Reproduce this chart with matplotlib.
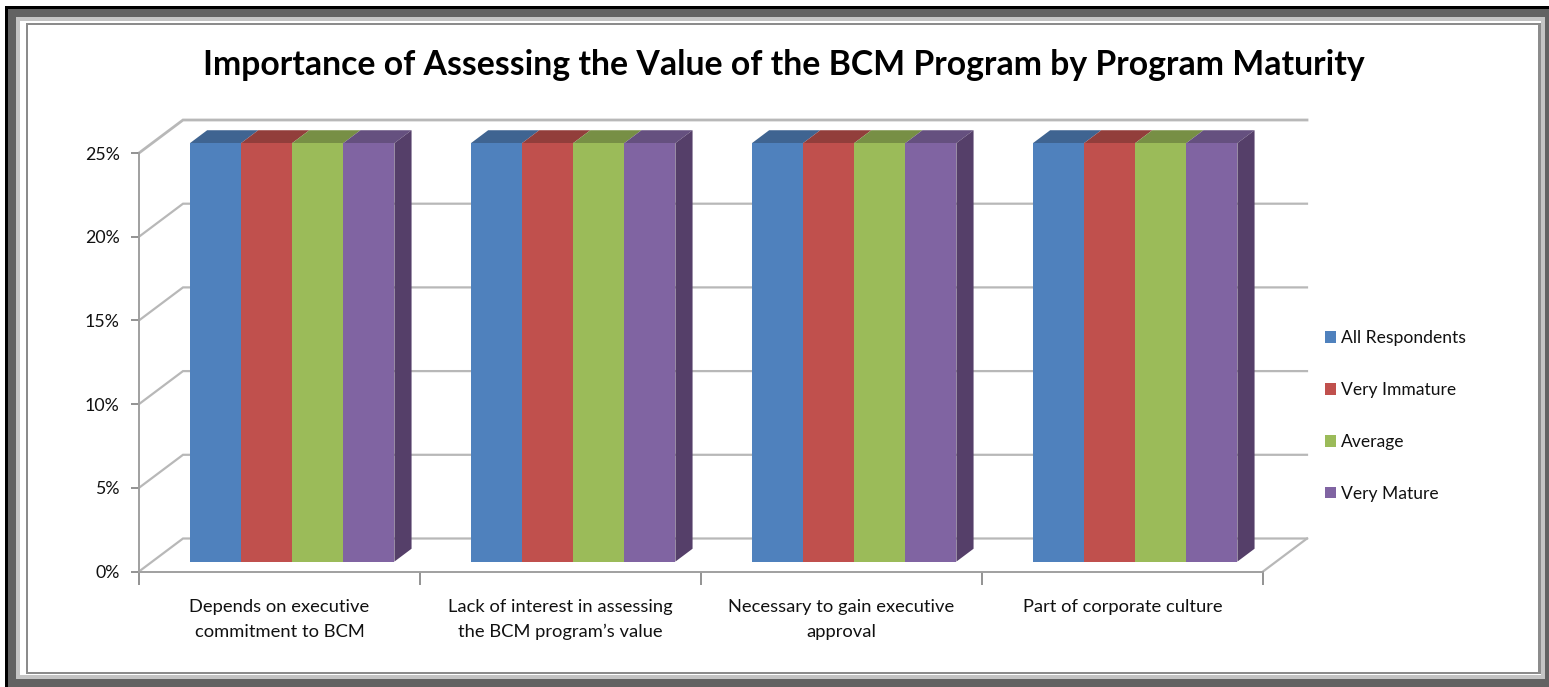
import matplotlib
matplotlib.use('Agg')
import matplotlib.pyplot as plt
from matplotlib.patches import Rectangle

W, H = 1549, 687

categories = ['Depends on executive\ncommitment to BCM',
              'Lack of interest in assessing\nthe BCM program\u2019s value',
              'Necessary to gain executive\napproval',
              'Part of corporate culture\n ']
series_names = ['All Respondents', 'Very Immature', 'Average', 'Very Mature']
all_respondents = [25, 25, 25, 25]
very_immature = [25, 25, 25, 25]
average = [25, 25, 25, 25]
very_mature = [25, 25, 25, 25]
y_ticks = [0, 5, 10, 15, 20, 25]

front_colors = ['#4f81bd', '#c0504d', '#9bbb59', '#8064a2']
top_colors = ['#3f6491', '#923e3b', '#778f45', '#65507f']
side_color = '#553f69'
grid_color = '#b8b8b8'

plt.rcParams['font.family'] = ['Lato', 'DejaVu Sans']

fig = plt.figure(figsize=(W / 100, H / 100), dpi=100, facecolor='white')


def frame(x0, y0, x1, y1, color, z):
    # rectangle in pixels, y from the top
    fig.add_artist(Rectangle((x0 / W, 1 - y1 / H), (x1 - x0) / W, (y1 - y0) / H,
                             transform=fig.transFigure, facecolor=color,
                             edgecolor='none', zorder=z))


frame(5, 6, W, H, '#000000', -10)
frame(8, 9, W, H, '#626262', -9)
frame(16, 17, 1545, 679, '#c4c4c4', -8)
frame(20, 21, 1541, 675, '#ffffff', -7)
frame(26, 23, 1541, 674, '#8c8c8c', -6)
frame(28, 25, 1538, 672, '#ffffff', -5)

# front plane of the chart in pixels
left, right, top, bottom = 139, 1263, 153, 571.5
ax = fig.add_axes([left / W, 1 - bottom / H, (right - left) / W, (bottom - top) / H])
ax.patch.set_alpha(0)
ax.set_xlim(0, 4)
ax.set_ylim(0, 25)

# depth of the 3d floor, in data units
depth_x = 44 / ((right - left) / 4)
depth_y = 33 / ((bottom - top) / 25)

# back wall and floor lines
for v in y_ticks:
    lw = 2.0 if v == 25 else 1.6
    ax.plot([0, depth_x, 4 + depth_x], [v, v + depth_y, v + depth_y],
            color=grid_color, lw=lw, clip_on=False, zorder=1, solid_joinstyle='miter')
ax.plot([4, 4 + depth_x], [0, depth_y], color=grid_color, lw=1.6, clip_on=False, zorder=1)

# bars
d0, d1 = 0.3, 0.69
bar_w = 51.1 / ((right - left) / 4)
start = (190 - left) / ((right - left) / 4) - d0 * depth_x
series = [all_respondents, very_immature, average, very_mature]
for j, vals in enumerate(series):
    for i, v in enumerate(vals):
        xa = i + start + j * bar_w + d0 * depth_x
        xb = xa + bar_w
        ya = d0 * depth_y
        shift_x = (d1 - d0) * depth_x
        shift_y = (d1 - d0) * depth_y
        ax.fill([xa, xb, xb + shift_x, xa + shift_x],
                [ya + v, ya + v, ya + v + shift_y, ya + v + shift_y],
                color=top_colors[j], lw=0, clip_on=False, zorder=2)
        if j == len(series) - 1:
            ax.fill([xb, xb + shift_x, xb + shift_x, xb],
                    [ya, ya + shift_y, ya + v + shift_y, ya + v],
                    color=side_color, lw=0, clip_on=False, zorder=2)
    ax.bar([i + start + j * bar_w + d0 * depth_x for i in range(4)], vals, bar_w,
           bottom=d0 * depth_y, align='edge', color=front_colors[j], lw=0,
           label=series_names[j], clip_on=False, zorder=3)

for s in ['top', 'right']:
    ax.spines[s].set_visible(False)
for s in ['left', 'bottom']:
    ax.spines[s].set_color('#a0a0a0')
    ax.spines[s].set_linewidth(1.4)

ax.set_yticks(y_ticks)
ax.set_yticklabels(['%d%%' % v for v in y_ticks], fontsize=12.8, color='#111111')
ax.set_xticks([0, 1, 2, 3, 4])
ax.set_xticklabels([])
ax.set_xticks([0.5, 1.5, 2.5, 3.5], minor=True)
ax.set_xticklabels(categories, minor=True, fontsize=13.2, color='#111111', linespacing=1.65)
ax.tick_params(axis='y', length=6, width=1.2, color='#808080', pad=8)
ax.tick_params(axis='x', which='major', length=9, width=1.2, color='#808080')
ax.tick_params(axis='x', which='minor', length=0, pad=20)

leg = ax.legend(loc='center left', bbox_to_anchor=(1325 / W, 1 - 416 / H),
                bbox_transform=fig.transFigure, frameon=False, fontsize=12.6,
                handlelength=0.63, handleheight=0.63, handletextpad=0.3,
                labelspacing=2.05, borderpad=0, borderaxespad=0)
for t in leg.get_texts():
    t.set_color('#111111')

fig.text(784 / W, 1 - 65 / H, 'Importance of Assessing the Value of the BCM Program by Program Maturity',
         ha='center', va='center', fontsize=24.3, fontweight='bold', color='black')

fig.savefig('out.png', dpi=100)
